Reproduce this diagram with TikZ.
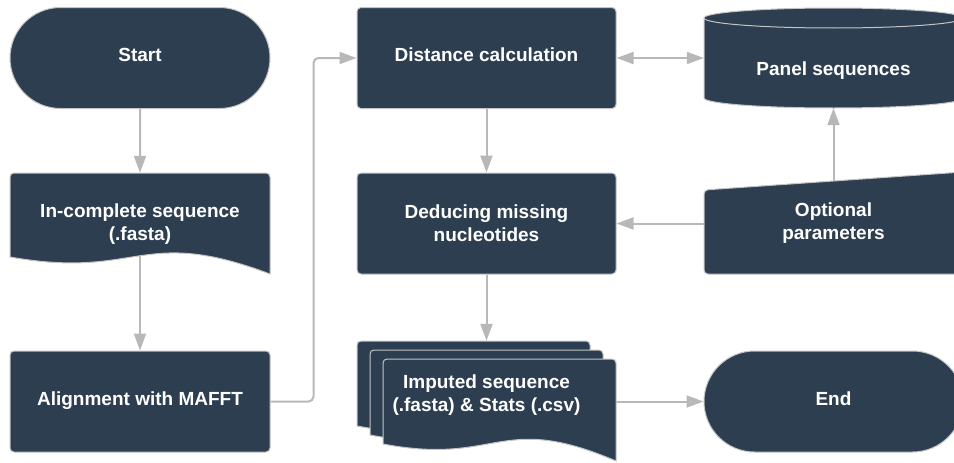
\documentclass[tikz,border=0pt]{standalone}
\usepackage{fontspec}
\setmainfont{Liberation Sans}
\usetikzlibrary{shapes.geometric,shapes.misc,arrows.meta,calc}
\definecolor{navy}{HTML}{2C3E50}
\definecolor{edgegray}{HTML}{C4C4C4}
\definecolor{arrgray}{HTML}{B8B8B8}
\pgfdeclarelayer{bg}
\pgfsetlayers{bg,main}
\tikzset{
  sh/.style={fill=navy, draw=edgegray, line width=1pt},
  lbl/.style={text=white, font=\fontsize{19}{23}\selectfont\bfseries, align=center},
  oneline/.style={text height=13.6pt, text depth=6pt},
  box/.style={sh, lbl, rounded corners=4pt, minimum width=259pt, minimum height=101pt, inner sep=0pt},
  term/.style={sh, lbl, oneline, rounded rectangle, minimum width=260pt, minimum height=101pt, inner sep=0pt},
  ghost/.style={rectangle, draw=none, inner sep=0pt},
  conn/.style={draw=arrgray, line width=2pt, -{Triangle[length=17pt,width=12pt]}, rounded corners=5pt},
  both/.style={draw=arrgray, line width=2pt, {Triangle[length=17pt,width=12pt]}-{Triangle[length=17pt,width=12pt]}},
}
\begin{document}
\begin{tikzpicture}[x=1pt,y=-1pt]
\useasboundingbox (0,0) rectangle (954,463);

% column 1
\node[term] (start) at (140,58) {Start};

\path[sh] (10,257) [rounded corners=4pt] -- (10,173) -- (270,173) [sharp corners] -- (270,274)
  .. controls (140,225) and (140,280) .. (10,257) -- cycle;
\node[ghost, minimum width=260pt, minimum height=101pt,
  label={[lbl, yshift=-1pt]center:In-complete sequence\\(.fasta)}] (inc) at (140,223.5) {};

\node[box, oneline, minimum width=260pt] (align) at (140,401.5) {Alignment with MAFFT};

% column 2
\node[box, oneline] (dist) at (486.5,58) {Distance calculation};
\node[box] (ded) at (486.5,223.5) {Deducing missing\\nucleotides};

\foreach \L/\T in {357/341, 370/350, 383/359}{
  \path[sh] (\L,\T+85) [rounded corners=4pt] -- (\L,\T) -- (\L+233,\T) [sharp corners] -- (\L+233,\T+102)
    .. controls (\L+116,\T+52) and (\L+116,\T+107) .. (\L,\T+85) -- cycle;
}
\node[ghost, minimum width=259pt, minimum height=121pt,
  label={[lbl, yshift=6pt]center:Imputed sequence\\(.fasta) \& Stats (.csv)}] (imp) at (486.5,401.5) {};

% column 3
\path[sh] (704,18) -- (704,98) arc[start angle=180, end angle=0, x radius=129.5, y radius=10]
  -- (963,18) arc[start angle=0, end angle=-180, x radius=129.5, y radius=10] -- cycle;
\draw[edgegray, line width=1pt] (704,18) arc[start angle=180, end angle=0, x radius=129.5, y radius=10];
\node[ghost, minimum width=259pt, minimum height=100pt,
  label={[lbl, yshift=-13pt]center:Panel sequences}] (panel) at (833.5,58) {};

\path[sh] (704,274) [rounded corners=4pt] -- (704,190) -- (963,172) -- (963,274) -- cycle;
\node[ghost, minimum width=259pt, minimum height=101pt,
  label={[lbl, yshift=0.5pt]center:Optional\\parameters}] (opt) at (833.5,223.5) {};

\node[term, minimum width=259pt] (end) at (833.5,401.5) {End};

% connectors
\begin{pgfonlayer}{bg}
\draw[conn] (start) -- (inc);
\draw[conn] (inc.center) -- (align);
\draw[conn] (align.east) -- ++(43,0) |- (dist.west);
\draw[both] (dist.east) -- (panel.west);
\draw[conn] (dist) -- (ded);
\draw[conn] (opt.west) -- (ded.east);
\draw[conn] (opt.center) -- (panel.south);
\draw[conn] (ded) -- (imp);
\draw[conn] (imp.east) -- (imp.east -| end.west);
\end{pgfonlayer}
\end{tikzpicture}
\end{document}
